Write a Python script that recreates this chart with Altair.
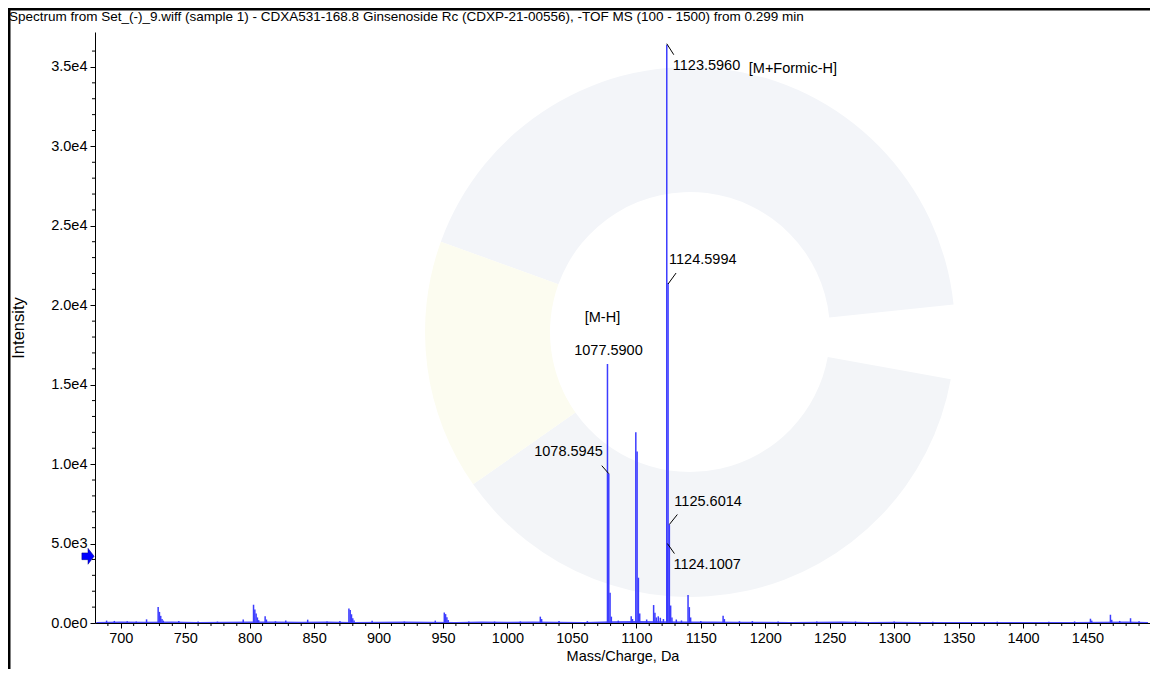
import altair as alt
import pandas as pd

# ---------------- data ----------------
title_text = ("Spectrum from Set_(-)_9.wiff (sample 1) - CDXA531-168.8 Ginsenoside Rc "
              "(CDXP-21-00556), -TOF MS (100 - 1500) from 0.299 min")

peak_mz = [689, 695, 705, 712, 720, 729, 730, 731, 732, 733, 745, 760, 775, 795,
           803, 804, 805, 806, 807, 812, 813, 820, 828, 845, 860, 870,
           877, 878, 879, 880, 881, 895, 920, 944, 951, 952, 953, 954, 970, 990,
           1010, 1025.5, 1026.5, 1040, 1062, 1077.59, 1078.5945, 1079.6, 1080.6,
           1086, 1096, 1097, 1099.58, 1100.58, 1101.58, 1102.6, 1108, 1113.4,
           1114.4, 1115.5, 1117, 1118.6, 1121, 1123.596, 1124.1007, 1124.5994,
           1125.6014, 1126.6, 1127.6, 1131, 1135, 1140.1, 1141.1, 1142.1, 1150,
           1167.3, 1168.3, 1180, 1190, 1210, 1240, 1270, 1300, 1330, 1380, 1420,
           1440, 1452.3, 1453.3, 1467.8, 1468.8, 1475, 1483.4, 1490]
peak_int = [150, 130, 110, 90, 230, 1000, 700, 450, 250, 150, 130, 90, 90, 220,
            1150, 850, 600, 350, 180, 420, 220, 110, 160, 210, 100, 130,
            920, 820, 550, 300, 160, 140, 90, 150, 660, 560, 360, 190, 90, 90,
            100, 400, 250, 120, 120, 16300, 9400, 1900, 400,
            150, 420, 250, 12000, 10800, 2850, 600, 220, 1130,
            650, 350, 420, 330, 250, 36400, 5000, 21400,
            6200, 1100, 350, 220, 160, 1760, 1000, 350, 130,
            460, 250, 110, 120, 90, 90, 90, 90, 80, 80, 80,
            100, 270, 150, 520, 200, 130, 300, 110]

base_mz = [681, 700, 720, 740, 760, 780, 800, 820, 840, 860, 880, 900, 920, 940,
           960, 980, 1000, 1020, 1040, 1060, 1080, 1100, 1120, 1140, 1160, 1180,
           1200, 1220, 1240, 1260, 1280, 1300, 1320, 1340, 1360, 1380, 1400, 1420,
           1440, 1460, 1480, 1497]
base_int = [70, 90, 80, 100, 70, 80, 90, 100, 80, 90, 70, 80, 90, 80,
            70, 90, 80, 90, 80, 70, 110, 120, 110, 100, 90, 80,
            80, 70, 80, 90, 70, 80, 70, 60, 70, 60, 70, 60,
            70, 80, 90, 70]

x_ticks = [700, 750, 800, 850, 900, 950, 1000, 1050, 1100, 1150, 1200, 1250,
           1300, 1350, 1400, 1450]
x_minor = [v for v in range(690, 1500, 10) if v % 50 != 0]
y_ticks = [0, 5000, 10000, 15000, 20000, 25000, 30000, 35000]
y_minor = [v for v in range(1000, 37000, 1000) if v % 5000 != 0]

ann_text = ["1123.5960", "[M+Formic-H]", "1124.5994", "1077.5900", "[M-H]",
            "1078.5945", "1125.6014", "1124.1007"]
ann_mz = [1123.596, 1123.596, 1124.5994, 1077.59, 1077.59, 1078.5945, 1125.6014, 1124.1007]
ann_int = [36400, 36400, 21400, 16300, 16300, 9400, 6200, 5000]

threshold = [4200]

# ---------------- layout ----------------
W, H = 1055, 591
PAD_L, PAD_T, PAD_R, PAD_B = 87, 24, 0, 46
FONT = "Liberation Sans, Arial"
BLUE = "#3c3cff"

xs = alt.Scale(domain=[680, 1498.5], nice=False, zero=False)
ys = alt.Scale(domain=[0, 37200], nice=False)

peaks = pd.DataFrame({"mz": peak_mz, "intensity": peak_int})
base = pd.DataFrame({"mz": base_mz, "intensity": base_int})

x_axis = alt.Axis(values=x_ticks, format="d", title="Mass/Charge, Da", grid=False,
                  tickSize=5, tickColor="black", domainColor="black", labelColor="black",
                  labelFont=FONT, labelFontSize=14.5, titleFont=FONT, titleFontSize=14.5,
                  titleFontWeight="normal", titleColor="black", labelPadding=3,
                  titlePadding=5, labelFlush=False)
y_axis = alt.Axis(values=y_ticks, labelExpr="replace(format(datum.value,'.1e'),'+','')",
                  title="Intensity", grid=False, tickSize=5, tickColor="black",
                  domainColor="black", labelColor="black", labelFont=FONT,
                  labelFontSize=14.5, titleFont=FONT, titleFontSize=16.5,
                  titleFontWeight="normal", titleColor="black", labelPadding=3,
                  titlePadding=24, labelFlush=False)

# faint watermark logo behind the plot (decoration)
wm = pd.DataFrame({"a": [0]})
def ring(t0, t1, color):
    return alt.Chart(wm).mark_arc(theta=t0, theta2=t1, radius=265, radius2=140,
                                  color=color, opacity=1).encode(
        x=alt.value(595), y=alt.value(300))
wm_top = ring(5.06, 7.75, "#f3f5f9")
wm_bot = ring(1.75, 4.10, "#f3f5f8")
wm_left = ring(4.10, 5.06, "#fcfcf0")

baseline = alt.Chart(base).mark_area(color=BLUE, opacity=0.9, line=False).encode(
    x=alt.X("mz:Q", scale=xs, axis=x_axis),
    y=alt.Y("intensity:Q", scale=ys, axis=y_axis),
)

sticks = alt.Chart(peaks).mark_rule(color=BLUE, strokeWidth=1.5).encode(
    x=alt.X("mz:Q", scale=xs),
    y=alt.Y("intensity:Q", scale=ys),
    y2=alt.datum(0),
)

xminor = alt.Chart(pd.DataFrame({"v": x_minor})).mark_rule(color="black", strokeWidth=1).encode(
    x=alt.X("v:Q", scale=xs), y=alt.value(H), y2=alt.value(H + 3))
yminor = alt.Chart(pd.DataFrame({"v": y_minor})).mark_rule(color="black", strokeWidth=1).encode(
    y=alt.Y("v:Q", scale=ys), x=alt.value(0), x2=alt.value(-3))

ann = pd.DataFrame({"label": ann_text, "mz": ann_mz, "intensity": ann_int})

# label placement (pixel offsets from the peak apex): dx, dy, align
placements = [(6, 21, "left"), (82, 24, "left"), (1, -23, "left"), (1, -13, "center"),
              (-5, -46, "center"), (-6, -22, "right"), (5, -23, "left"), (6, 21, "left")]
texts = []
for i, (dx, dy, al) in enumerate(placements):
    texts.append(
        alt.Chart(ann.iloc[[i]]).mark_text(align=al, baseline="middle", dx=dx, dy=dy,
                                           font=FONT, fontSize=14.5, color="black").encode(
            x=alt.X("mz:Q", scale=xs), y=alt.Y("intensity:Q", scale=ys), text="label:N")
    )

# leader lines (label index, x0, y0, x1, y1 pixel offsets)
leaders = [(0, 0, -1, 7, 10), (2, 0, 1, 8, -10), (5, -7, -8, 0, 0), (6, 0, 0, 8, -10),
           (7, 0, 0, 7, 10)]
lines = []
for i, x0, y0, x1, y1 in leaders:
    lines.append(
        alt.Chart(ann.iloc[[i]]).mark_rule(color="black", strokeWidth=1, xOffset=x0,
                                           yOffset=y0, x2Offset=x1, y2Offset=y1).encode(
            x=alt.X("mz:Q", scale=xs), x2="mz:Q",
            y=alt.Y("intensity:Q", scale=ys), y2="intensity:Q")
    )

arrow_path = "M -1 -0.55 L 0 -0.55 L 0 -1.3 L 1 0 L 0 1.3 L 0 0.55 L -1 0.55 Z"
arrow = alt.Chart(pd.DataFrame({"t": threshold})).mark_point(
    shape=arrow_path, filled=True, color="#0000ff", size=150, opacity=1,
    stroke="#000080", strokeWidth=0.5).encode(
    y=alt.Y("t:Q", scale=ys), x=alt.value(-7))

title_mark = alt.Chart(pd.DataFrame({"t": [title_text]})).mark_text(
    align="left", baseline="middle", font=FONT, fontSize=13.5, color="black").encode(
    text="t:N", x=alt.value(-86), y=alt.value(-15))

frame_top = alt.Chart(pd.DataFrame({"a": [0]})).mark_rule(color="black", strokeWidth=3).encode(
    x=alt.value(-PAD_L), x2=alt.value(W + PAD_R), y=alt.value(-PAD_T + 1))
frame_left = alt.Chart(pd.DataFrame({"a": [0]})).mark_rule(color="black", strokeWidth=3).encode(
    x=alt.value(-PAD_L + 1), y=alt.value(-PAD_T), y2=alt.value(H + PAD_B))

chart = alt.layer(wm_top, wm_bot, wm_left, baseline, sticks, xminor, yminor, *lines,
                  *texts, arrow, title_mark, frame_top, frame_left).properties(
    width=W, height=H,
    background="white",
    autosize=alt.AutoSizeParams(type="none"),
    padding={"left": PAD_L, "top": PAD_T, "right": PAD_R, "bottom": PAD_B},
).configure_view(strokeWidth=0, stroke="transparent")

chart.save("out.html", embed_options={"renderer": "svg", "actions": False})
